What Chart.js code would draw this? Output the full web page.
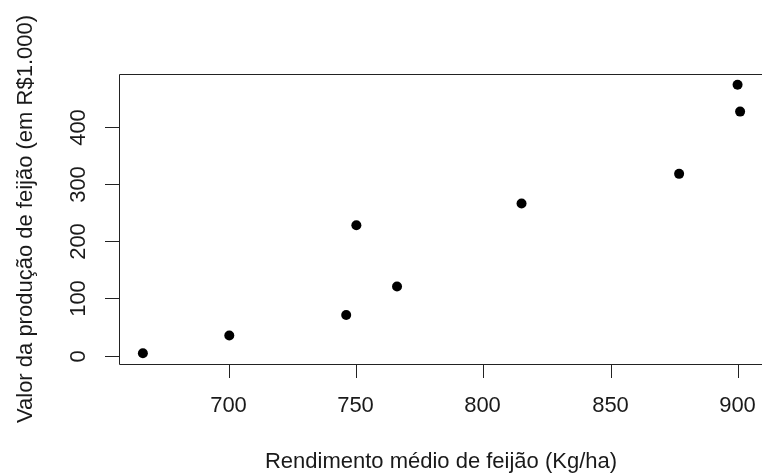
<!DOCTYPE html>
<html>
<head>
<meta charset="utf-8">
<script src="https://cdn.jsdelivr.net/npm/chart.js@4"></script>
<style>
  html, body { margin: 0; padding: 0; background: #fff; overflow: hidden; }
  #wrap { width: 800px; height: 476px; }
</style>
</head>
<body>
<div id="wrap"><canvas id="chart" width="800" height="476"></canvas></div>
<script>
'use strict';

// rendimento (Kg/ha) x valor da produção (R$1.000)
const rendimento = [666, 700, 746, 750, 766, 815, 877, 900, 901];
const valor = [4, 35, 71, 228, 121, 266, 318, 474, 427];

const xTicks = [700, 750, 800, 850, 900];
const yTicks = [0, 100, 200, 300, 400];

const xTitle = 'Rendimento médio de feijão (Kg/ha)';
const yTitle = 'Valor da produção de feijão (em R$1.000)';

// R pads the data range by 4% on each side
const xPad = (Math.max(...rendimento) - Math.min(...rendimento)) * 0.04;
const yPad = (Math.max(...valor) - Math.min(...valor)) * 0.04;

const FONT = '22px "Liberation Sans", Arial, sans-serif';
const INK = '#1a1a1a';
const TICK_LEN = 14;

const rAxes = {
  id: 'rAxes',
  afterDraw(chart) {
    const ctx = chart.ctx;
    const a = chart.chartArea;
    const xs = chart.scales.x, ys = chart.scales.y;
    const L = a.left + 0.5, T = a.top + 0.5, B = a.bottom + 0.5, R = a.right + 0.5;
    ctx.save();
    ctx.strokeStyle = '#222';
    ctx.lineWidth = 1;
    ctx.beginPath();
    ctx.moveTo(R, T); ctx.lineTo(L, T); ctx.lineTo(L, B); ctx.lineTo(R, B); ctx.lineTo(R, T);
    ctx.stroke();

    ctx.fillStyle = INK;
    ctx.font = FONT;

    // eixo x
    ctx.textAlign = 'center';
    ctx.textBaseline = 'middle';
    xTicks.forEach(v => {
      const px = Math.round(xs.getPixelForValue(v)) + 0.5;
      ctx.beginPath();
      ctx.moveTo(px, a.bottom);
      ctx.lineTo(px, a.bottom + TICK_LEN);
      ctx.stroke();
      ctx.fillText(String(v), px - 1, 406);
    });

    // eixo y (rótulos paralelos ao eixo, como no R)
    yTicks.forEach(v => {
      const py = Math.round(ys.getPixelForValue(v)) + 0.5;
      ctx.beginPath();
      ctx.moveTo(a.left - TICK_LEN, py);
      ctx.lineTo(a.left, py);
      ctx.stroke();
      ctx.save();
      ctx.translate(79, py);
      ctx.rotate(-Math.PI / 2);
      ctx.fillText(String(v), 0, 0);
      ctx.restore();
    });

    // títulos (centrados na área visível do gráfico)
    ctx.fillText(xTitle, 441, 462);
    ctx.save();
    ctx.translate(26, (a.top + a.bottom) / 2);
    ctx.rotate(-Math.PI / 2);
    ctx.fillText(yTitle, 0, 0);
    ctx.restore();
    ctx.restore();
  }
};

new Chart(document.getElementById('chart'), {
  type: 'scatter',
  data: {
    datasets: [{
      data: rendimento.map((x, i) => ({ x, y: valor[i] })),
      backgroundColor: '#000',
      borderWidth: 0,
      pointRadius: 5,
      pointHoverRadius: 5
    }]
  },
  options: {
    responsive: false,
    devicePixelRatio: 1,
    animation: false,
    layout: { padding: { left: 119, top: 74, right: 36, bottom: 112 } },
    plugins: { legend: { display: false }, tooltip: { enabled: false } },
    scales: {
      x: {
        type: 'linear',
        display: false,
        min: Math.min(...rendimento) - xPad,
        max: Math.max(...rendimento) + xPad
      },
      y: {
        type: 'linear',
        display: false,
        min: Math.min(...valor) - yPad,
        max: Math.max(...valor) + yPad
      }
    }
  },
  plugins: [rAxes]
});
</script>
</body>
</html>
